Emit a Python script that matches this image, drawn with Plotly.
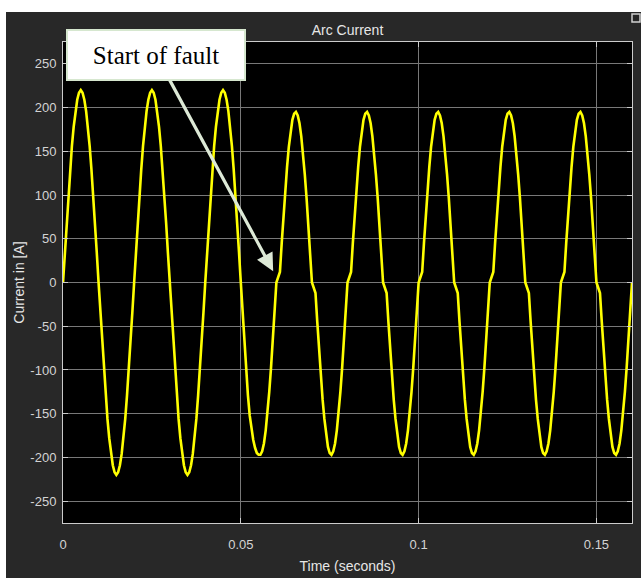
import plotly.graph_objects as go

# ---- data ----
SAMPLE_STEP_S = 0.0005  # sampling interval of the arc-current record, seconds

# pre-fault cycles (0 .. 0.0495 s), amplitude ~220 A
current_prefault = [
    0, 34, 68, 100, 129, 156, 178, 196, 209, 217, 220, 217, 209, 196, 178, 156, 129, 100, 68, 34,
    0, -34, -68, -100, -129, -156, -178, -196, -209, -217, -220, -217, -209, -196, -178, -156, -129, -100, -68, -34,
    0, 34, 68, 100, 129, 156, 178, 196, 209, 217, 220, 217, 209, 196, 178, 156, 129, 100, 68, 34,
    0, -34, -68, -100, -129, -156, -178, -196, -209, -217, -220, -217, -209, -196, -178, -156, -129, -100, -68, -34,
    0, 34, 68, 100, 129, 156, 178, 196, 209, 217, 220, 217, 209, 196, 178, 156, 129, 100, 68, 34,
]
# transition half cycle (0.05 .. 0.0595 s)
current_transition = [
    0, -34, -68, -100, -129, -152, -167, -180, -189, -195, -197, -197, -193, -184, -169, -149, -125, -97, -66, -34,
]
# arcing-fault cycles (0.06 .. 0.16 s), amplitude ~195 A with flat steps at current zero
current_fault = [
    0, 6, 12, 45, 77, 106, 132, 155, 173, 186, 193, 195, 191, 182, 167, 147, 123, 96, 65, 33,
    0, -6, -12, -45, -77, -107, -134, -156, -175, -188, -195, -197, -193, -184, -169, -149, -125, -97, -66, -34,
    0, 6, 12, 45, 77, 106, 132, 155, 173, 186, 193, 195, 191, 182, 167, 147, 123, 96, 65, 33,
    0, -6, -12, -45, -77, -107, -134, -156, -175, -188, -195, -197, -193, -184, -169, -149, -125, -97, -66, -34,
    0, 6, 12, 45, 77, 106, 132, 155, 173, 186, 193, 195, 191, 182, 167, 147, 123, 96, 65, 33,
    0, -6, -12, -45, -77, -107, -134, -156, -175, -188, -195, -197, -193, -184, -169, -149, -125, -97, -66, -34,
    0, 6, 12, 45, 77, 106, 132, 155, 173, 186, 193, 195, 191, 182, 167, 147, 123, 96, 65, 33,
    0, -6, -12, -45, -77, -107, -134, -156, -175, -188, -195, -197, -193, -184, -169, -149, -125, -97, -66, -34,
    0, 6, 12, 45, 77, 106, 132, 155, 173, 186, 193, 195, 191, 182, 167, 147, 123, 96, 65, 33,
    0, -6, -12, -45, -77, -107, -134, -156, -175, -188, -195, -197, -193, -184, -169, -149, -125, -97, -66, -34,
    0,
]

x_tick_values = [0, 0.05, 0.1, 0.15]
x_tick_labels = ["0", "0.05", "0.1", "0.15"]
y_tick_values = [-250, -200, -150, -100, -50, 0, 50, 100, 150, 200, 250]
y_tick_labels = ["-250", "-200", "-150", "-100", "-50", "0", "50", "100", "150", "200", "250"]

fault_time = 0.0591
fault_current = 13

current = current_prefault + current_transition + current_fault
time_s = [i * SAMPLE_STEP_S for i in range(len(current))]

# ---- figure ----
W, H = 641, 578
L, R, T, B = 63, 9, 42, 55
PANEL = "#282828"
SANS = "Liberation Sans, Arial, sans-serif"

fig = go.Figure()
fig.add_trace(go.Scatter(
    x=time_s, y=current, mode="lines",
    line=dict(color="#ffff00", width=2.6),
    hoverinfo="skip", showlegend=False,
))

axis_common = dict(
    showgrid=True, gridcolor="#787878", gridwidth=1,
    zeroline=False,
    showline=True, linecolor="#cccccc", linewidth=1, mirror="ticks",
    ticks="inside", ticklen=5, tickcolor="#cccccc",
    tickfont=dict(family=SANS, size=13, color="#d4d4d4"),
)

fig.update_layout(
    width=W, height=H,
    margin=dict(l=L, r=R, t=T, b=B, pad=0, autoexpand=False),
    paper_bgcolor=PANEL,
    plot_bgcolor="#000000",
    title=dict(text="Arc Current", x=(L + (W - R)) / 2 / W, xanchor="center",
               y=1 - 30 / H, yanchor="middle", yref="container",
               font=dict(family=SANS, size=14, color="#e6e6e6")),
    xaxis=dict(range=[0, 0.16], tickvals=x_tick_values, ticktext=x_tick_labels,
               ticklabelstandoff=9,
               title=dict(text="Time (seconds)", standoff=10,
                          font=dict(family=SANS, size=14, color="#e6e6e6")),
               **axis_common),
    yaxis=dict(range=[-275, 275], tickvals=y_tick_values, ticktext=y_tick_labels,
               ticklabelstandoff=3,
               title=dict(text="Current in [A]", standoff=2,
                          font=dict(family=SANS, size=14, color="#e6e6e6")),
               **axis_common),
    showlegend=False,
)

# white page margins around the dark scope panel
px = lambda v: (v - L) / (W - L - R)
py = lambda v: (H - B - v) / (H - T - B)
fig.add_shape(type="rect", xref="paper", yref="paper",
              x0=px(0), x1=px(W), y0=py(12), y1=py(0),
              fillcolor="#ffffff", line=dict(width=0), layer="below")
fig.add_shape(type="rect", xref="paper", yref="paper",
              x0=px(0), x1=px(6), y0=py(H), y1=py(0),
              fillcolor="#ffffff", line=dict(width=0), layer="below")
# small undock icon at top right
fig.add_shape(type="rect", xref="paper", yref="paper",
              x0=px(632), x1=px(640), y0=py(22), y1=py(14),
              fillcolor=PANEL, line=dict(color="#d0d0d0", width=1.5), layer="above")

fig.add_annotation(
    x=fault_time, y=fault_current, xref="x", yref="y",
    ax=-117, ay=-216, axref="pixel", ayref="pixel",
    text="Start of fault", showarrow=True,
    arrowhead=2, arrowsize=1.1, arrowwidth=3.2, arrowcolor="#dde9d6", standoff=0,
    font=dict(family="Liberation Serif, Times New Roman, serif", size=25, color="#000000"),
    bgcolor="#ffffff", bordercolor="#d6e7cf", borderwidth=2, borderpad=3,
    width=170, height=42,
)

fig.write_html("out.html", post_script="document.body.style.margin='0';",
               config={"displayModeBar": False})
